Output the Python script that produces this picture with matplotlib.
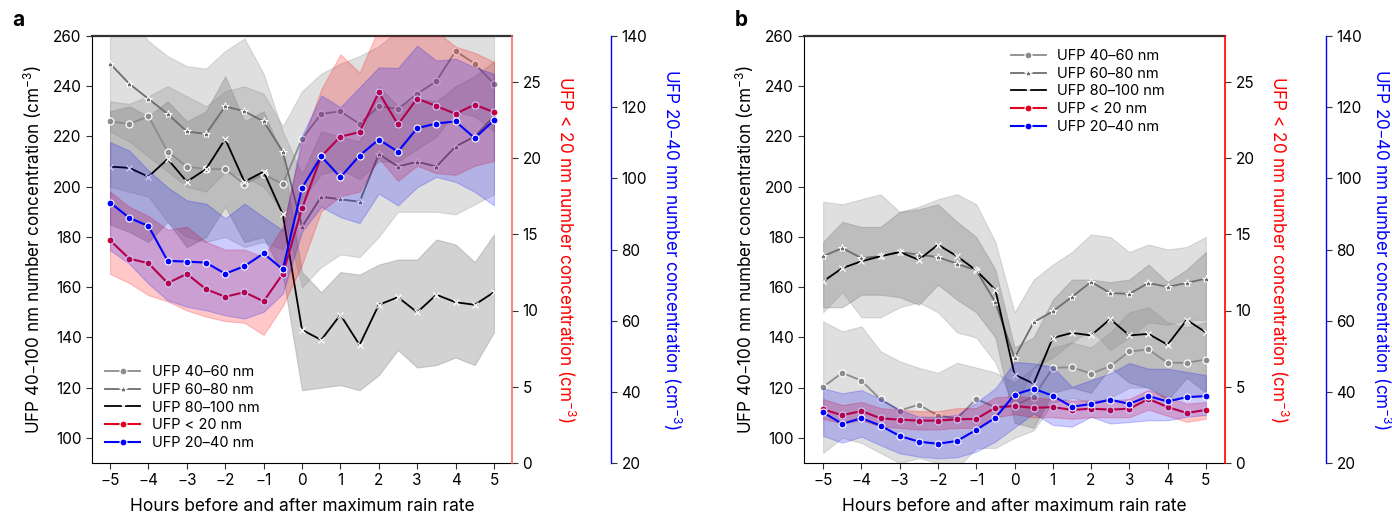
import numpy as np
import matplotlib
matplotlib.use("Agg")
import matplotlib.pyplot as plt

plt.rcParams['font.family'] = ['Inter', 'DejaVu Sans']
plt.rcParams['mathtext.default'] = 'regular'

hours = np.arange(-5, 5.01, 0.5)

# panel a
a_4060 = [226, 225, 228, 214, 208, 207, 207, 201, 205, 201, 219, 229, 230, 225, 232, 231, 237, 242, 254, 249, 241]
a_6080 = [249, 241, 235, 229, 222, 221, 232, 230, 226, 214, 184, 196, 195, 194, 213, 208, 210, 208, 216, 220, 228]
a_80100 = [208, 207.5, 204, 211, 202, 207, 219, 202, 206, 189, 143, 139, 149, 137, 153, 156, 150, 157, 154, 153, 158]
a_lt20 = [14.6, 13.4, 13.1, 11.8, 12.4, 11.4, 10.9, 11.2, 10.6, 12.4, 16.7, 20.1, 21.4, 21.7, 24.3, 22.2, 23.9, 23.4, 22.9, 23.5, 23.0]
a_2040 = [93.2, 88.9, 86.6, 76.8, 76.6, 76.3, 73.2, 75.3, 78.9, 74.4, 97.3, 106.2, 100.3, 106.4, 110.9, 107.5, 114.1, 115.4, 116, 111.3, 116.3]

a_4060_lo = [200, 198, 196, 186, 180, 178, 180, 176, 178, 175, 195, 205, 207, 203, 210, 210, 215, 220, 230, 228, 222]
a_4060_hi = [234, 233, 236, 240, 236, 232, 238, 240, 237, 224, 238, 245, 249, 252, 256, 262, 265, 265, 265, 265, 262]
a_6080_lo = [222, 218, 212, 206, 200, 198, 206, 204, 200, 190, 160, 168, 173, 172, 180, 190, 190, 190, 189, 193, 197]
a_6080_hi = [268, 268, 258, 252, 248, 247, 254, 259, 245, 222, 205, 222, 220, 218, 240, 232, 235, 234, 240, 244, 250]
a_80100_lo = [185, 182, 178, 186, 176, 180, 192, 178, 180, 165, 119, 120, 121, 119, 125, 135, 128, 129, 132, 129, 142]
a_80100_hi = [230, 232, 228, 234, 226, 230, 244, 226, 230, 212, 166, 158, 166, 165, 169, 171, 171, 179, 177, 170, 181]
a_lt20_lo = [12.4, 11.8, 11, 10.6, 10, 9.6, 9.3, 9.2, 8.4, 10.3, 13, 16.5, 17.5, 17.8, 20, 18.5, 19.5, 19, 18.9, 19.5, 19.8]
a_lt20_hi = [17.8, 16.8, 16.2, 15.3, 15.5, 14.5, 14, 14, 13.5, 15.5, 21, 24.5, 26.8, 25.6, 28.5, 28.5, 28.5, 28.3, 27.3, 26.9, 26.3]
a_2040_lo = [79.8, 76, 70.4, 65.7, 63.9, 62.9, 61.5, 60.6, 62.5, 67.6, 85, 92, 89.1, 87.4, 95.7, 92.4, 97.5, 100.4, 99, 96.2, 92.4]
a_2040_hi = [110.2, 107.8, 102.2, 97.5, 93.8, 92.9, 88.8, 92.9, 89.1, 85.4, 112, 123.3, 120, 125.6, 131.2, 131, 137.3, 133.1, 133.6, 131.2, 129.4]

# panel b
b_4060 = [120.3, 125.9, 122.8, 115.3, 110.9, 113.2, 108.9, 107.7, 115.5, 112.2, 113, 116.3, 127.9, 128.1, 125.6, 128.5, 134.4, 135.2, 129.9, 129.9, 131.2]
b_6080 = [172.3, 175.6, 171.6, 172.3, 174, 172.9, 172, 169.3, 166.7, 154, 131.8, 146, 150.4, 156.1, 162.1, 157.7, 157.3, 161.7, 160.1, 161.7, 163.4]
b_80100 = [162.3, 167.6, 170.3, 172.3, 174, 170.9, 176.9, 172.3, 166.7, 159, 125.2, 121.6, 139.8, 141.8, 140.8, 147.3, 140.8, 141.4, 137.1, 147, 142]
b_lt20 = [3.52, 3.13, 3.41, 2.93, 2.84, 2.78, 2.78, 2.87, 2.89, 3.63, 3.74, 3.61, 3.67, 3.48, 3.56, 3.5, 3.56, 4.2, 3.67, 3.28, 3.48]
b_2040 = [34.2, 31, 32.6, 30.5, 27.6, 26, 25.4, 26.2, 29.3, 32.7, 39.2, 40.9, 38.9, 35.8, 36.6, 37.8, 36.6, 38.8, 37.3, 38.5, 38.8]

b_4060_lo = [94, 100, 98, 94, 90, 92, 90, 88, 96, 96, 100, 103, 114, 116, 114, 116, 120, 120, 116, 116, 118]
b_4060_hi = [146.4, 142.4, 144.4, 134.5, 130.5, 127.9, 125.9, 129.9, 128, 126, 122, 128, 136, 138, 136, 142, 150, 152, 146, 144, 146]
b_6080_lo = [150, 158, 148, 148, 152, 154, 150, 142, 140, 130, 112, 128, 132, 138, 143, 135, 140, 146, 145, 147, 147]
b_6080_hi = [194, 193, 195, 197, 190, 192, 195, 197, 193, 178, 150, 163, 169, 174, 181, 180, 174, 177, 175, 176, 180]
b_80100_lo = [152, 152, 157, 157, 156, 153, 161, 155, 150, 140, 106, 104, 118, 120, 118, 128, 122, 120, 115, 124, 118]
b_80100_hi = [178, 186, 184, 184, 190, 191, 193, 186, 180, 167, 136, 140, 155, 163, 163, 162, 163, 169, 162, 167, 174]
b_lt20_lo = [2.9, 2.6, 2.8, 2.4, 2.3, 2.2, 2.2, 2.3, 2.3, 3.0, 3.2, 3.0, 3.0, 2.9, 3.0, 3.0, 3.0, 3.5, 3.1, 2.7, 2.9]
b_lt20_hi = [4.2, 3.8, 4.0, 3.6, 3.5, 3.4, 3.4, 3.6, 3.6, 4.3, 4.4, 4.3, 4.2, 4.1, 4.1, 4.1, 4.2, 4.8, 4.3, 3.9, 4.0]
b_2040_lo = [27.6, 25.7, 27.4, 25, 22.7, 21.8, 21.3, 21.6, 23.2, 26, 30, 33.9, 30.7, 30.2, 33, 31.1, 31.5, 32, 32, 33, 33.5]
b_2040_hi = [41, 39.6, 40.5, 38, 35, 33, 33, 33.5, 37, 41, 48.4, 48, 47, 41.4, 43.3, 45.2, 48.1, 46.5, 46.5, 45.6, 44.7]

labels = ['UFP 40–60 nm', 'UFP 60–80 nm', 'UFP 80–100 nm', 'UFP < 20 nm', 'UFP 20–40 nm']


def dessiner_panneau(ax, gris, rouge, bleu, xmax, red_spine, blue_pos, pads, leg_kw):
    ax.set_xlim(-xmax, xmax)
    ax.set_ylim(90, 260)

    (m1, lo1, hi1), (m2, lo2, hi2), (m3, lo3, hi3) = gris
    ax.fill_between(hours, lo2, hi2, color='gray', alpha=0.25, lw=0.8)
    ax.fill_between(hours, lo1, hi1, color='gray', alpha=0.25, lw=0.8)
    ax.fill_between(hours, lo3, hi3, color='gray', alpha=0.35, lw=0.8)
    l1, = ax.plot(hours, m1, '-o', color='#8c8c8c', lw=1.3, ms=5, mec='white', mew=0.9, label=labels[0])
    l2, = ax.plot(hours, m2, '-*', color='#6e6e6e', lw=1.3, ms=6, mec='white', mfc='#6e6e6e', mew=0.7, label=labels[1])
    l3, = ax.plot(hours, m3, '-x', color='black', lw=1.3, ms=5, mec='white', mew=0.9, label=labels[2])

    ax.set_xticks(range(-5, 6))
    ax.set_yticks(range(100, 261, 20))
    ax.set_xlabel('Hours before and after maximum rain rate', fontsize=12.5, labelpad=7)
    ax.set_ylabel('UFP 40–100 nm number concentration (cm$^{-3}$)', fontsize=12.3, labelpad=6)
    ax.spines['right'].set_visible(False)
    ax.spines['top'].set_color('#333333')
    ax.spines['top'].set_linewidth(1.6)

    axr = ax.twinx()
    m, lo, hi = rouge
    axr.fill_between(hours, lo, hi, color='red', alpha=0.22, lw=0.8)
    l4, = axr.plot(hours, m, '-o', color='#e3001f', lw=1.5, ms=5, mec='white', mew=0.8, label=labels[3])
    axr.set_ylim(0, 28)
    axr.set_yticks(range(0, 26, 5))
    axr.set_ylabel('UFP < 20 nm number concentration (cm$^{-3}$)', color='red', fontsize=12.3,
                   rotation=-90, labelpad=pads[0])
    for s in ['left', 'top', 'bottom']:
        axr.spines[s].set_visible(False)
    axr.spines['right'].set_color(red_spine)
    axr.spines['right'].set_linewidth(1.2)

    axb = ax.twinx()
    m, lo, hi = bleu
    axb.fill_between(hours, lo, hi, color='blue', alpha=0.2, lw=0.8)
    l5, = axb.plot(hours, m, '-o', color='blue', lw=1.5, ms=5, mec='white', mew=0.8, label=labels[4])
    axb.set_ylim(20, 140)
    axb.set_yticks(range(20, 141, 20))
    axb.set_ylabel('UFP 20–40 nm number concentration (cm$^{-3}$)', color='blue', fontsize=12.3,
                   rotation=-90, labelpad=pads[1])
    for s in ['left', 'top', 'bottom']:
        axb.spines[s].set_visible(False)
    axb.spines['right'].set_position(('axes', blue_pos))
    axb.spines['right'].set_color('blue')
    axb.spines['right'].set_linewidth(1.0)

    for a in (ax, axr, axb):
        a.tick_params(labelsize=11, length=4, color='#333333')

    axb.legend(handles=[l1, l2, l3, l4, l5], frameon=False, fontsize=10.5, handlelength=2.4,
               labelspacing=0.25, **leg_kw)


fig = plt.figure(figsize=(13.92, 5.2), dpi=100)
ax_a = fig.add_axes([92 / 1392, 57 / 520, 420 / 1392, 427 / 520])
ax_b = fig.add_axes([804 / 1392, 57 / 520, 421 / 1392, 427 / 520])

dessiner_panneau(ax_a,
                 [(a_4060, a_4060_lo, a_4060_hi), (a_6080, a_6080_lo, a_6080_hi), (a_80100, a_80100_lo, a_80100_hi)],
                 (a_lt20, a_lt20_lo, a_lt20_hi), (a_2040, a_2040_lo, a_2040_hi),
                 5.47, '#ff6b6b', 1.236, (26, 26), dict(loc='lower left', bbox_to_anchor=(0.0, 0.0)))
dessiner_panneau(ax_b,
                 [(b_4060, b_4060_lo, b_4060_hi), (b_6080, b_6080_lo, b_6080_hi), (b_80100, b_80100_lo, b_80100_hi)],
                 (b_lt20, b_lt20_lo, b_lt20_hi), (b_2040, b_2040_lo, b_2040_hi),
                 5.5, 'red', 1.24, (26, 22), dict(loc='upper left', bbox_to_anchor=(0.46, 1.0)))

fig.text(12 / 1392, 1 - 20 / 520, 'a', fontsize=15, fontweight='bold', va='center')
fig.text(735 / 1392, 1 - 20 / 520, 'b', fontsize=15, fontweight='bold', va='center')

fig.savefig('out.png', dpi=100)
